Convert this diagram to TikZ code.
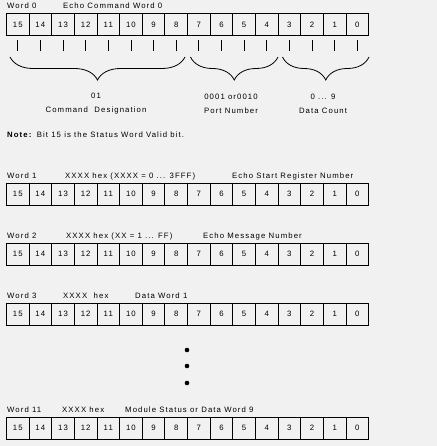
\documentclass[tikz,border=0pt]{standalone}
\usepackage{fontspec}
\setmainfont{Liberation Sans}[LetterSpace=14]
\usetikzlibrary{positioning,decorations.pathreplacing}

\definecolor{paper}{RGB}{241,241,241}

\tikzset{
    bitcell/.style={draw, line width=0.8bp, minimum width=22.64bp, minimum height=22bp,
        inner sep=0pt, anchor=north west, font=\fontsize{7.8}{9}\selectfont},
    wordtext/.style={anchor=base west, inner sep=0pt, font=\fontsize{7.8}{9}\selectfont},
    fieldtext/.style={align=center, inner sep=0pt, font=\fontsize{7.8}{14}\selectfont},
    fieldbrace/.style={decorate, line width=0.8bp, decoration={brace, mirror, amplitude=23bp}},
}

% one register row: #1 = name, #2 = top edge
\newcommand{\bitrow}[2]{%
    \foreach \b [count=\i from 0] in {15,14,...,0}
        \node[bitcell] (#1b\b) at ({6+22.64*\i},#2) {\b};
}

\begin{document}
\begin{tikzpicture}[x=1bp, y=-1bp]
    \fill[paper] (0,0) rectangle (437,446);
    \useasboundingbox (0,0) rectangle (437,446);

    % Word 0
    \node[wordtext] (w0name) at (7,8.5) {Word 0};
    \node[wordtext] (w0desc) at (63,8.5) {Echo Command Word 0};
    \bitrow{w0}{13.3}
    \foreach \b in {15,14,...,0}
        \draw[line width=0.8bp] ([yshift=-4bp]w0b\b.south) -- ++(0,11);

    % fields of word 0
    \coordinate (cmdL) at (10,57);  \coordinate (cmdR) at (185,57);
    \coordinate (portL) at (190.5,57); \coordinate (portR) at (278,57);
    \coordinate (cntL) at (282.5,57);  \coordinate (cntR) at (369,57);
    \draw[fieldbrace] (cmdL) -- (cmdR);
    \draw[fieldbrace] (portL) -- (portR);
    \draw[fieldbrace] (cntL) -- (cntR);
    \node[fieldtext] (cmd) at (96,104) {01\\Command\ \ Designation};
    \node[fieldtext] (port) at (231,104) {0001 or0010\\Port Number};
    \node[fieldtext] (cnt) at (323,104) {0 ... 9\\Data Count};

    % Note
    \node[wordtext] (note) at (7,137.6) {\textbf{Note:} Bit 15 is the Status Word Valid bit.};

    % Word 1
    \node[wordtext] (w1name) at (7,178.2) {Word 1};
    \node[wordtext] (w1hex) at (65,178.2) {XXXX hex (XXXX = 0 ... 3FFF)};
    \node[wordtext] (w1desc) at (232,178.2) {Echo Start Register Number};
    \bitrow{w1}{182.7}

    % Word 2
    \node[wordtext] (w2name) at (7,238.2) {Word 2};
    \node[wordtext] (w2hex) at (66,238.2) {XXXX hex (XX = 1 ... FF)};
    \node[wordtext] (w2desc) at (203,238.2) {Echo Message Number};
    \bitrow{w2}{242.7}

    % Word 3
    \node[wordtext] (w3name) at (7,298.2) {Word 3};
    \node[wordtext] (w3hex) at (63,298.2) {XXXX\ \ hex};
    \node[wordtext] (w3desc) at (135,298.2) {Data Word 1};
    \bitrow{w3}{302.7}

    % dots
    \foreach \y [count=\k] in {350,366,383}
        \fill (187,\y) circle (2.3bp) coordinate (dot\k);

    % Word 11
    \node[wordtext] (w11name) at (7,412.2) {Word 11};
    \node[wordtext] (w11hex) at (62,412.2) {XXXX hex};
    \node[wordtext] (w11desc) at (125,412.2) {Module Status or Data Word 9};
    \bitrow{w11}{416.7}
\end{tikzpicture}
\end{document}
